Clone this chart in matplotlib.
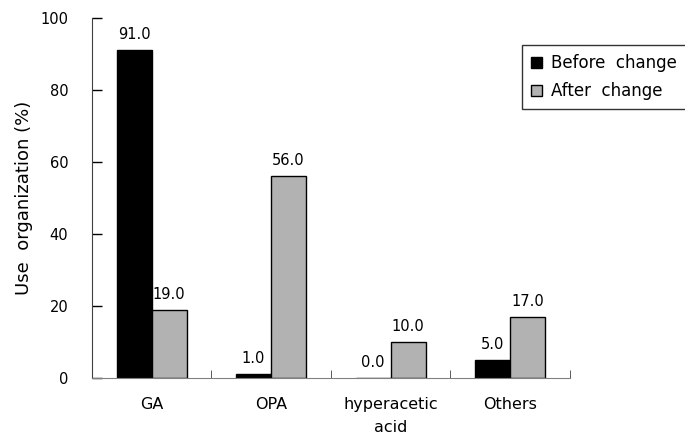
import numpy as np
import matplotlib
matplotlib.use("Agg")
import matplotlib.pyplot as plt

plt.rcParams['font.family'] = ['DejaVu Sans']

categories = ["GA", "OPA", "hyperacetic\nacid", "Others"]
before = [91.0, 1.0, 0.0, 5.0]
after = [19.0, 56.0, 10.0, 17.0]
series_names = ["Before  change", "After  change"]

fig = plt.figure(figsize=(6.85, 4.38), dpi=100)
ax = fig.add_axes([0.134, 0.137, 0.698, 0.822])

x = np.arange(len(categories))
width = 0.293
b1 = ax.bar(x - width / 2, before, width, color="black", edgecolor="black",
            linewidth=1.0, label=series_names[0])
b2 = ax.bar(x + width / 2, after, width, color="#b2b2b2", edgecolor="black",
            linewidth=1.0, label=series_names[1])

# value labels above each bar
for bars, vals in ((b1, before), (b2, after)):
    for rect, v in zip(bars, vals):
        ax.text(rect.get_x() + rect.get_width() / 2, v + 2.2, f"{v:.1f}",
                ha="center", va="bottom", fontsize=10.5)

ax.set_xlim(-0.5, len(categories) - 0.5)
ax.set_ylim(0, 100)
ax.set_yticks(np.arange(0, 101, 20))
ax.tick_params(axis="y", direction="in", length=7, width=1, labelsize=10.5,
               pad=17)

ax.set_xticks(x)
ax.set_xticklabels(categories, fontsize=11.5, linespacing=1.6)
ax.tick_params(axis="x", which="major", length=0, pad=14)
ax.set_xticks(np.arange(-0.5, len(categories), 1.0), minor=True)
ax.tick_params(axis="x", which="minor", direction="in", length=6,
               color="#404040")

ax.spines["top"].set_visible(False)
ax.spines["right"].set_visible(False)
ax.spines["bottom"].set_color("#808080")
ax.spines["left"].set_color("#404040")

ax.set_ylabel("Use  organization (%)", fontsize=13, labelpad=5)

leg = fig.legend(loc="upper left", bbox_to_anchor=(0.762, 0.897),
                 borderaxespad=0, fontsize=12, frameon=True,
                 fancybox=False, handlelength=0.65, handleheight=0.65,
                 handletextpad=0.55, borderpad=0.55, labelspacing=0.6)
leg.get_frame().set_edgecolor("black")
leg.get_frame().set_linewidth(1.0)

fig.savefig("out.png", dpi=100)
